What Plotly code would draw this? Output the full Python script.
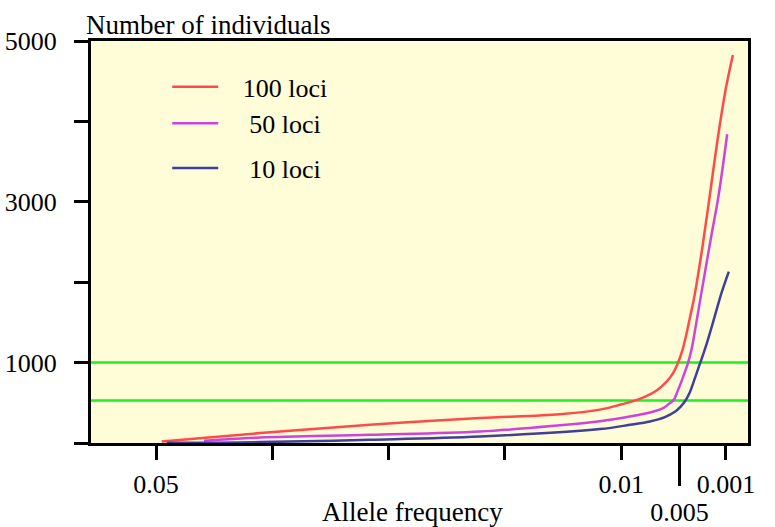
import plotly.graph_objects as go

# Allele frequency (x) and number of individuals needed (y) for each marker set
freq_100 = [0.04952, 0.04106, 0.03161, 0.02215, 0.01528, 0.01184, 0.01012, 0.00840, 0.00696,
            0.00610, 0.00554, 0.00511, 0.00473, 0.00438, 0.00404, 0.00367, 0.00303, 0.00238,
            0.00172, 0.00103, 0.00040]
n_100 = [19, 123, 226, 310, 357, 415, 475, 549, 653, 764, 869, 1001, 1158, 1366, 1594, 1855,
         2426, 3085, 3769, 4390, 4825]

freq_50 = [0.04588, 0.04106, 0.03161, 0.02215, 0.01528, 0.01184, 0.00926, 0.00754, 0.00640,
           0.00582, 0.00548, 0.00518, 0.00487, 0.00457, 0.00425, 0.00393, 0.00359, 0.00324,
           0.00281, 0.00224, 0.00165, 0.00089]
n_50 = [27, 68, 102, 143, 220, 270, 329, 379, 434, 496, 537, 636, 748, 866, 1001, 1183, 1457,
        1755, 2116, 2588, 3060, 3840]

freq_10 = [0.04909, 0.04106, 0.03161, 0.02215, 0.01184, 0.00926, 0.00754, 0.00625, 0.00539,
           0.00487, 0.00449, 0.00414, 0.00376, 0.00333, 0.00294, 0.00255, 0.00217, 0.00178,
           0.00135, 0.00075]
n_10 = [2, 11, 40, 81, 173, 226, 267, 322, 388, 456, 525, 618, 767, 947, 1109, 1283, 1469,
        1668, 1879, 2132]

NB = "\u00a0"
series_names = [NB * 3 + "100 loci", NB * 4 + "50 loci", NB * 4 + "10 loci"]
series_colors = ["#FF4A4A", "#CC44DD", "#3F3F9C"]

# Reference sample sizes marked across the plot
threshold_levels = [1000, 530]

x_tick_vals = [0.05, 0.04, 0.03, 0.02, 0.01, 0.001]
x_tick_text = ["0.05", "", "", "", "0.01", "0.001"]
x_long_tick = [0.005]
x_long_text = ["0.005"]
y_tick_vals = [0, 1000, 2000, 3000, 4000, 5000]
y_tick_text = ["", "1000", "", "3000", "", "5000"]

FONT = "Liberation Serif, Times New Roman, serif"
x_range = [0.0556, -0.0009]

fig = go.Figure()
legend_ids = ["legend", "legend2", "legend3"]
for fx, ny, name, col, lg in zip([freq_100, freq_50, freq_10], [n_100, n_50, n_10],
                                 series_names, series_colors, legend_ids):
    fig.add_trace(go.Scatter(x=fx, y=ny, mode="lines", name=name, legend=lg,
                             line=dict(color=col, width=2.5, shape="spline", smoothing=1.0)))

for lvl in threshold_levels:
    fig.add_hline(y=lvl, line=dict(color="#22EE22", width=2.5), layer="below")

legend_common = dict(bgcolor="rgba(0,0,0,0)", borderwidth=0, itemwidth=46,
                     font=dict(family=FONT, size=26, color="black"),
                     xanchor="left", yanchor="middle", xref="paper", yref="paper")
fig.update_layout(
    legend=dict(x=0.116, y=0.886, **legend_common),
    legend2=dict(x=0.116, y=0.795, **legend_common),
    legend3=dict(x=0.116, y=0.684, **legend_common),
)

fig.update_layout(
    width=775, height=527,
    margin=dict(l=91, r=27, t=41, b=84, autoexpand=False),
    paper_bgcolor="white",
    plot_bgcolor="#FFFCD8",
    font=dict(family=FONT, size=26, color="black"),
    showlegend=True,
    xaxis=dict(range=x_range, tickmode="array", tickvals=x_tick_vals, ticktext=x_tick_text,
               ticks="outside", ticklen=14, tickwidth=3, tickcolor="black",
               showline=True, linewidth=3, linecolor="black", mirror=True,
               showgrid=False, zeroline=False, ticklabelstandoff=2, automargin=False,
               tickfont=dict(family=FONT, size=26)),
    xaxis2=dict(range=x_range, overlaying="x", anchor="y", side="bottom",
                tickmode="array", tickvals=x_long_tick, ticktext=x_long_text,
                ticks="outside", ticklen=42, tickwidth=3, tickcolor="black",
                showline=False, showgrid=False, zeroline=False, ticklabelstandoff=4,
                automargin=False, tickfont=dict(family=FONT, size=26)),
    yaxis=dict(range=[0, 5000], tickmode="array", tickvals=y_tick_vals, ticktext=y_tick_text,
               ticks="outside", ticklen=14, tickwidth=3, tickcolor="black",
               showline=True, linewidth=3, linecolor="black", mirror=True,
               showgrid=False, zeroline=False, ticklabelstandoff=12, automargin=False,
               tickfont=dict(family=FONT, size=26)),
)

# invisible trace so the secondary axis carrying the 0.005 tick is drawn
fig.add_trace(go.Scatter(x=x_long_tick, y=[None], xaxis="x2", yaxis="y",
                         showlegend=False, hoverinfo="skip"))

fig.add_annotation(text="Number of individuals", xref="paper", yref="paper",
                   x=-0.011, y=1.04, xanchor="left", yanchor="middle", showarrow=False,
                   font=dict(family=FONT, size=27, color="black"))
fig.add_annotation(text="Allele frequency", xref="paper", yref="paper",
                   x=0.489, y=-0.172, xanchor="center", yanchor="middle", showarrow=False,
                   font=dict(family=FONT, size=27, color="black"))

fig.write_html("out.html")
